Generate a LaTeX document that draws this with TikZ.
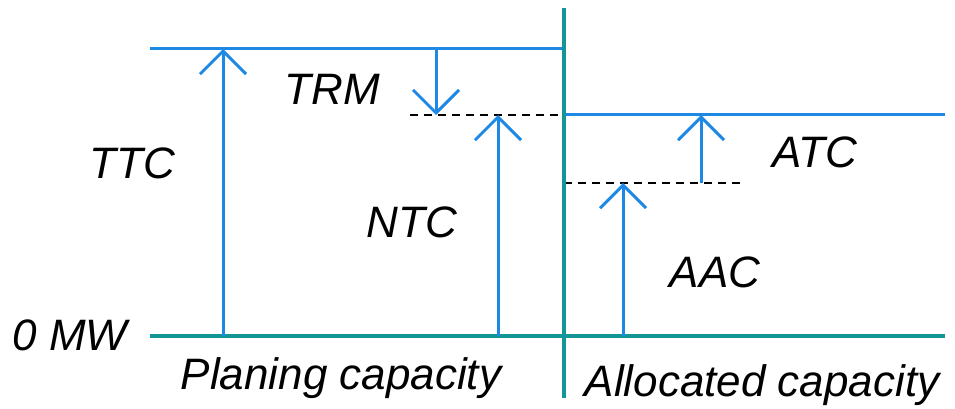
\documentclass[tikz,border=0pt]{standalone}
\usepackage{fontspec}
\setmainfont{Liberation Sans}
\usetikzlibrary{arrows.meta}
\definecolor{lblue}{RGB}{30,136,229}
\definecolor{lteal}{RGB}{20,150,150}
\begin{document}
\begin{tikzpicture}[x=1pt,y=-1pt,
  bluel/.style={draw=lblue,line width=3pt},
  teall/.style={draw=lteal,line width=4pt},
  dashl/.style={draw=black,line width=1.2pt,dash pattern=on 8pt off 6pt},
  vec/.style={bluel,-{Straight Barb[length=23pt,width=46pt]}},
  lab/.style={font=\fontsize{44}{48}\selectfont\itshape,anchor=base,inner sep=0pt}]
\useasboundingbox (0,0) rectangle (955,409);
% coordinates
\coordinate (vtop) at (564,8);
\coordinate (vbot) at (564,398);
\coordinate (bl) at (150,336);
\coordinate (br) at (945,336);
\coordinate (tl) at (150,49);
\coordinate (tr) at (564,49);
\coordinate (ml) at (564,115);
\coordinate (mr) at (945,115);
\coordinate (d1l) at (410,115);
\coordinate (d2r) at (745,183);
\coordinate (d2l) at (564,183);
\coordinate (ttcb) at (223,336);
\coordinate (ttct) at (223,49);
\coordinate (trmt) at (436,49);
\coordinate (trmb) at (436,115);
\coordinate (ntcb) at (498,336);
\coordinate (ntct) at (498,115);
\coordinate (aacb) at (623,336);
\coordinate (aact) at (623,183);
\coordinate (atcb) at (701,183);
\coordinate (atct) at (701,115);
% lines
\draw[bluel] (tl) -- (tr);
\draw[bluel] (ml) -- (mr);
\draw[dashl] (d1l) -- (ml);
\draw[dashl] (d2l) -- (d2r);
\draw[teall] (bl) -- (br);
\draw[teall] (vtop) -- (vbot);
% arrows
\draw[vec] (ttcb) -- (ttct);
\draw[vec] (trmt) -- (trmb);
\draw[vec] (ntcb) -- (ntct);
\draw[vec] (aacb) -- (aact);
\draw[vec] (atcb) -- (atct);
% labels
\node[lab] (ttc) at (132,178) {TTC};
\node[lab] (trm) at (332,105) {TRM};
\node[lab] (ntc) at (412,237) {NTC};
\node[lab] (atc) at (815,167) {ATC};
\node[lab] (aac) at (715,287) {AAC};
\node[lab] (zmw) at (70,350) {0 MW};
\node[lab] (plan) at (341,389) {Planing capacity};
\node[lab] (alloc) at (762,396) {Allocated capacity};
\end{tikzpicture}
\end{document}
